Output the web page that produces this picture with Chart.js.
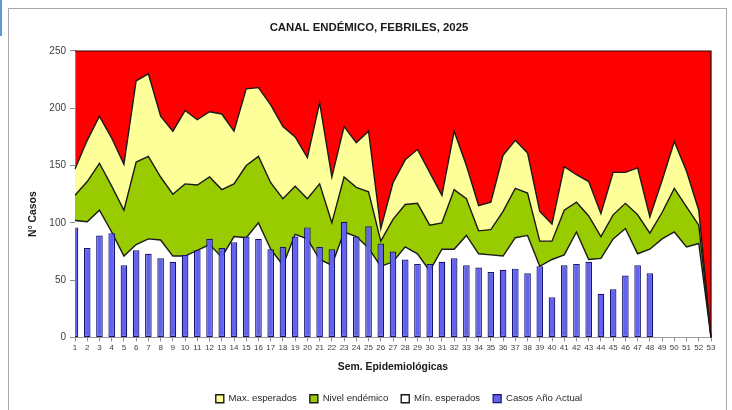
<!DOCTYPE html>
<html>
<head>
<meta charset="utf-8">
<script src="https://cdn.jsdelivr.net/npm/chart.js@4.4.1/dist/chart.umd.min.js"></script>
<style>
html,body{margin:0;padding:0;background:#fff;}
#wrap{position:relative;width:732px;height:410px;overflow:hidden;}
canvas{position:absolute;left:0;top:0;}
#frame{position:absolute;left:8px;top:8px;width:719px;height:430px;border:1px solid #a9a9a9;box-sizing:border-box;pointer-events:none;}
#mark{position:absolute;left:0;top:0;width:2px;height:36px;background:#5b9bd5;}
</style>
</head>
<body>
<div id="wrap">
<canvas id="c" width="732" height="410"></canvas>
<div id="frame"></div>
<div id="mark"></div>
</div>
<script>
// ---- data ----
const semanas = ['1','2','3','4','5','6','7','8','9','10','11','12','13','14','15','16','17','18','19','20',
  '21','22','23','24','25','26','27','28','29','30','31','32','33','34','35','36','37','38','39','40',
  '41','42','43','44','45','46','47','48','49','50','51','52','53'];

const maxEsperados = [147,172,193,174,151,224,230,193,180,198,190,197,195,180,217,218,203,184,175,157,
  205,140,184,170,180,95,135,155,164,144,124,180,150,115,118,159,172,161,110,99,
  149,142,136,108,144,144,148,105,137,171,145,111,0];

const nivelEndemico = [124,136,152,132,111,153,158,140,125,134,133,140,129,134,150,158,135,121,132,121,
  134,100,140,131,127,84,103,116,117,98,100,129,121,93,94,110,130,126,84,84,
  111,118,106,88,107,117,107,91,109,130,114,98,0];

const minEsperados = [102,101,111,92,71,81,86,85,71,71,76,81,70,88,87,100,77,63,90,86,
  68,63,92,88,78,62,66,79,73,58,77,77,89,73,72,71,87,89,62,68,
  72,92,68,69,86,95,73,77,86,92,79,82,0];

const casosActual = [96,78,89,91,63,76,73,69,66,72,76,86,78,83,88,86,77,79,88,96,
  79,77,101,88,97,82,75,68,64,64,66,69,63,61,57,59,60,56,62,35,
  63,64,66,38,42,54,63,56,null,null,null,null,null];

const yTicks = [0,50,100,150,200,250];
const tituloY = 'N° Casos';

// ---- chart ----
Chart.defaults.font.family = "'Liberation Sans', Arial, sans-serif";
Chart.defaults.color = '#404040';

const zonePlugin = {
  id: 'zone',
  beforeDraw(chart) {
    const a = chart.chartArea, ctx = chart.ctx;
    ctx.save();
    ctx.fillStyle = '#FF0000';
    ctx.fillRect(a.left, a.top, a.right - a.left, a.bottom - a.top);
    ctx.restore();
  },
  afterDatasetsDraw(chart) {
    const a = chart.chartArea, ctx = chart.ctx;
    ctx.save();
    ctx.strokeStyle = '#2a0000';
    ctx.lineWidth = 1.2;
    ctx.beginPath();
    ctx.moveTo(a.left, a.top);
    ctx.lineTo(a.right, a.top);
    ctx.lineTo(a.right, a.bottom);
    ctx.stroke();
    ctx.restore();
  },
  afterDraw(chart) {
    // y-axis title, placed as in the reference (slightly below the axis centre)
    const a = chart.chartArea, ctx = chart.ctx;
    ctx.save();
    ctx.translate(33, (a.top + a.bottom) / 2 + 20);
    ctx.rotate(-Math.PI / 2);
    ctx.font = "bold 10.4px 'Liberation Sans', Arial, sans-serif";
    ctx.fillStyle = '#1a1a1a';
    ctx.textAlign = 'center';
    ctx.textBaseline = 'middle';
    ctx.fillText(tituloY, 0, 0);
    ctx.restore();
  }
};

const boxShift = {
  id: 'boxShift',
  afterLayout(chart) {
    const lg = chart.legend;
    if (lg) {
      const dx = 399 - (lg.left + lg.right) / 2;
      lg.left += dx; lg.right += dx;
    }
    const tb = chart.titleBlock;
    if (tb) {
      const dx = 369 - (tb.left + tb.right) / 2;
      tb.left += dx; tb.right += dx;
    }
  }
};

const lineColor = '#1a1a1a';

new Chart(document.getElementById('c'), {
  type: 'bar',
  data: {
    labels: semanas,
    datasets: [
      { type: 'line', label: 'Max. esperados', data: maxEsperados, order: 1,
        borderColor: lineColor, borderWidth: 1.4, backgroundColor: '#FFFF99',
        fill: '+1', pointRadius: 0, tension: 0 },
      { type: 'line', label: 'Nivel endémico', data: nivelEndemico, order: 1,
        borderColor: lineColor, borderWidth: 1.4, backgroundColor: '#99CC00',
        fill: '+1', pointRadius: 0, tension: 0 },
      { type: 'line', label: 'Mín. esperados', data: minEsperados, order: 1,
        borderColor: lineColor, borderWidth: 1.4, backgroundColor: '#FFFFFF',
        fill: 'origin', pointRadius: 0, tension: 0 },
      { type: 'bar', label: 'Casos Año Actual', data: casosActual, order: 0,
        backgroundColor: '#6262EE', borderColor: '#15156a', borderWidth: 1.2,
        borderSkipped: false, categoryPercentage: 1, barPercentage: 0.54 }
    ]
  },
  options: {
    responsive: false,
    devicePixelRatio: 1,
    animation: false,
    layout: { padding: { left: 0, right: 21, top: 0, bottom: -3.5 } },
    plugins: {
      filler: { drawTime: 'beforeDatasetsDraw' },
      tooltip: { enabled: false },
      title: {
        display: true,
        text: 'CANAL ENDÉMICO, FEBRILES, 2025',
        color: '#1a1a1a',
        font: { size: 11.4, weight: 'bold' },
        padding: { top: 20.8, bottom: 16.5 }
      },
      legend: {
        position: 'bottom',
        labels: {
          boxWidth: 8, boxHeight: 8, padding: 13,
          color: '#262626',
          font: { size: 9.6 },
          sort: (a, b) => a.datasetIndex - b.datasetIndex
        }
      }
    },
    scales: {
      x: {
        type: 'category',
        offset: false,
        grid: { offset: false, drawOnChartArea: false, drawTicks: true, tickLength: 4, color: '#8c8c8c' },
        border: { color: '#8c8c8c' },
        ticks: { autoSkip: false, maxRotation: 0, minRotation: 0, padding: 2, font: { size: 8 }, color: '#404040' },
        title: { display: true, text: 'Sem. Epidemiológicas', color: '#1a1a1a',
                 font: { size: 10.4, weight: 'bold' }, padding: { top: 0, bottom: 7.8 } },
        afterFit(s) { s.height = 43.5; }
      },
      y: {
        min: 0, max: 250,
        grid: { drawOnChartArea: false, drawTicks: true, tickLength: 5, color: '#8c8c8c' },
        border: { color: '#8c8c8c' },
        ticks: { stepSize: 50, padding: 4, font: { size: 10 }, color: '#404040' },
        afterBuildTicks(s) { s.ticks = yTicks.map(v => ({ value: v })); },
        title: { display: false, text: tituloY },
        afterFit(s) { s.width = 75; }
      }
    }
  },
  plugins: [zonePlugin, boxShift]
});
</script>
</body>
</html>
